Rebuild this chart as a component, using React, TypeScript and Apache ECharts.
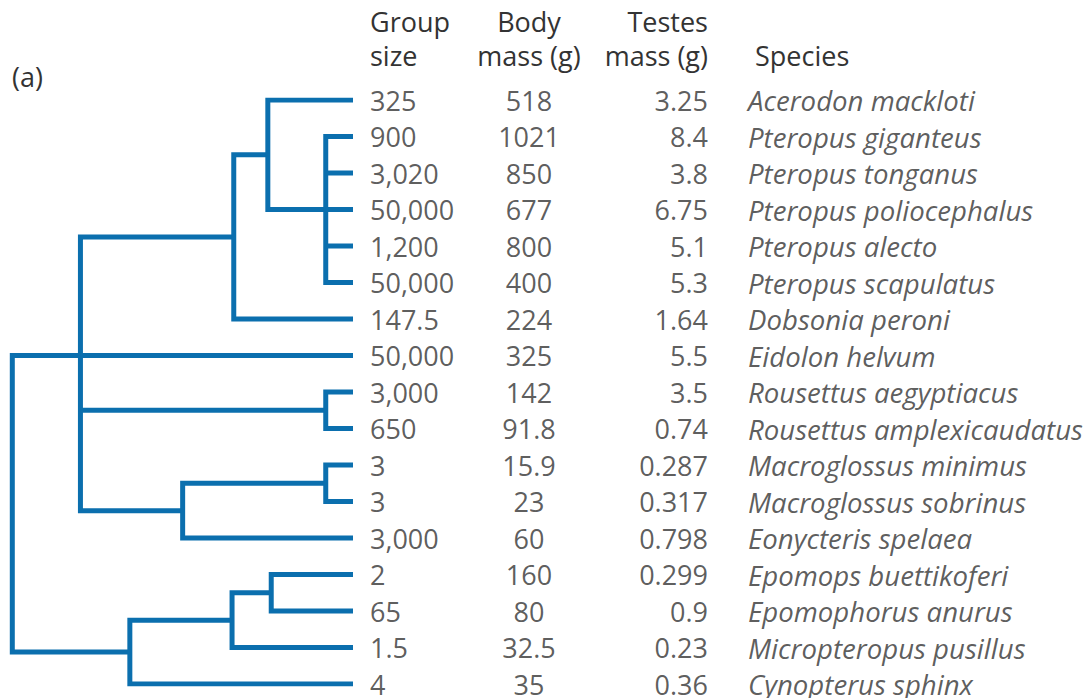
import React, { useEffect, useRef } from "react";
import * as echarts from "echarts";

// ---- Data ----
const species = [
  "Acerodon mackloti",
  "Pteropus giganteus",
  "Pteropus tonganus",
  "Pteropus poliocephalus",
  "Pteropus alecto",
  "Pteropus scapulatus",
  "Dobsonia peroni",
  "Eidolon helvum",
  "Rousettus aegyptiacus",
  "Rousettus amplexicaudatus",
  "Macroglossus minimus",
  "Macroglossus sobrinus",
  "Eonycteris spelaea",
  "Epomops buettikoferi",
  "Epomophorus anurus",
  "Micropteropus pusillus",
  "Cynopterus sphinx",
];
const groupSize = [325, 900, 3020, 50000, 1200, 50000, 147.5, 50000, 3000, 650, 3, 3, 3000, 2, 65, 1.5, 4];
const bodyMass = [518, 1021, 850, 677, 800, 400, 224, 325, 142, 91.8, 15.9, 23, 60, 160, 80, 32.5, 35];
const testesMass = [3.25, 8.4, 3.8, 6.75, 5.1, 5.3, 1.64, 5.5, 3.5, 0.74, 0.287, 0.317, 0.798, 0.299, 0.9, 0.23, 0.36];

const headerGroup = ["Group", "size"];
const headerBody = ["Body", "mass (g)"];
const headerTestes = ["Testes", "mass (g)"];
const headerSpecies = "Species";
const panelLabel = "(a)";

// Tree: internal nodes with depth (root = 0, tips = 100); numeric children are species rows
const leafDepth = 100;
const treeNodes: { id: string; depth: number; children: (string | number)[]; alignChild?: number }[] = [
  { id: "root", depth: 0, children: ["n20", "nCyn"] },
  { id: "n20", depth: 20, children: ["nDob", 7, "nRou", "nMacE"], alignChild: 1 },
  { id: "nDob", depth: 65, children: ["nAce", 6] },
  { id: "nAce", depth: 75, children: [0, "nPte"] },
  { id: "nPte", depth: 92, children: [1, 2, 3, 4, 5] },
  { id: "nRou", depth: 92, children: [8, 9] },
  { id: "nMacE", depth: 50, children: ["nMac", 12] },
  { id: "nMac", depth: 92, children: [10, 11] },
  { id: "nCyn", depth: 34.5, children: ["nMic", 16] },
  { id: "nMic", depth: 64.5, children: ["nEpo", 15] },
  { id: "nEpo", depth: 76, children: [13, 14] },
];

// ---- Build tree segments ----
const nodeMap = new Map(treeNodes.map((n) => [n.id, n]));
function posOf(c: string | number): { x: number; y: number } {
  if (typeof c === "number") return { x: leafDepth, y: c };
  const n = nodeMap.get(c)!;
  const kids = n.children.map(posOf);
  const y =
    n.alignChild !== undefined
      ? kids[n.alignChild].y
      : (kids[0].y + kids[kids.length - 1].y) / 2;
  return { x: n.depth, y };
}
function buildSegments() {
  const segs: { coords: number[][] }[] = [];
  treeNodes.forEach((n) => {
    const kids = n.children.map(posOf);
    const first = kids[0];
    const last = kids[kids.length - 1];
    segs.push({
      coords: [
        [first.x, first.y],
        [n.depth, first.y],
        [n.depth, last.y],
        [last.x, last.y],
      ],
    });
    for (let i = 1; i < kids.length - 1; i++) {
      segs.push({ coords: [[n.depth, kids[i].y], [kids[i].x, kids[i].y]] });
    }
  });
  return segs;
}

const FONT = "'Open Sans', 'Noto Sans', sans-serif";
const FS = 27;
const TEXT_COLOR = "#333333";
const BLUE = "#0b6fae";

const fmtGroup = (v: number) => v.toLocaleString("en-US");

export default function App() {
  const ref = useRef<HTMLDivElement>(null);
  useEffect(() => {
    if (!ref.current) return;
    const chart = echarts.init(ref.current, undefined, { renderer: "svg" });
    const textLabel = (align: string, italic = false) => ({
      show: true,
      position: "inside",
      align,
      verticalAlign: "middle",
      formatter: (p: any) => p.data[2],
      fontFamily: FONT,
      fontSize: italic ? 27.6 : FS,
      fontStyle: italic ? "italic" : "normal",
      color: TEXT_COLOR,
    });
    const textSeries = (name: string, x: number, values: string[], align: string, italic = false) => ({
      name,
      type: "scatter",
      xAxisIndex: 1,
      yAxisIndex: 1,
      symbol: "circle",
      symbolSize: 1,
      itemStyle: { color: "rgba(0,0,0,0)" },
      silent: true,
      label: textLabel(align, italic),
      data: values.map((v, i) => [x, i, v]),
    });
    const headerText = (text: string, x: number, y: number, align: string) => ({
      type: "text",
      x,
      y,
      style: {
        text,
        fontFamily: FONT,
        fontSize: FS,
        fill: TEXT_COLOR,
        textAlign: align,
        textVerticalAlign: "middle",
      },
    });
    chart.setOption({
      animation: false,
      backgroundColor: "#ffffff",
      grid: [
        { left: 12.3, top: 100, width: 340.7, height: 584 },
        { left: 0, top: 100, width: 1088, height: 584 },
      ],
      xAxis: [
        { type: "value", gridIndex: 0, min: 0, max: 100, show: false },
        { type: "value", gridIndex: 1, min: 0, max: 1088, show: false },
      ],
      yAxis: [
        { type: "value", gridIndex: 0, min: 0, max: species.length - 1, inverse: true, show: false },
        { type: "value", gridIndex: 1, min: 0, max: species.length - 1, inverse: true, show: false },
      ],
      graphic: [
        headerText(panelLabel, 12, 76, "left"),
        headerText(headerGroup[0], 370, 21, "left"),
        headerText(headerGroup[1], 370, 55, "left"),
        headerText(headerBody[0], 529, 21, "center"),
        headerText(headerBody[1], 529, 55, "center"),
        headerText(headerTestes[0], 708, 21, "right"),
        headerText(headerTestes[1], 708, 55, "right"),
        headerText(headerSpecies, 755, 55, "left"),
      ],
      series: [
        {
          type: "lines",
          coordinateSystem: "cartesian2d",
          xAxisIndex: 0,
          yAxisIndex: 0,
          polyline: true,
          silent: true,
          lineStyle: { color: BLUE, width: 5, opacity: 1, cap: "butt", join: "miter" },
          data: buildSegments(),
        },
        textSeries("group", 370, groupSize.map(fmtGroup), "left"),
        textSeries("body", 529, bodyMass.map((v) => String(v)), "center"),
        textSeries("testes", 708, testesMass.map((v) => String(v)), "right"),
        textSeries("species", 748, species, "left", true),
      ],
    });
    return () => chart.dispose();
  }, []);
  return (
    <div
      ref={ref}
      style={{ position: "absolute", left: 0, top: 0, width: 1088, height: 698, background: "#fff" }}
    />
  );
}
